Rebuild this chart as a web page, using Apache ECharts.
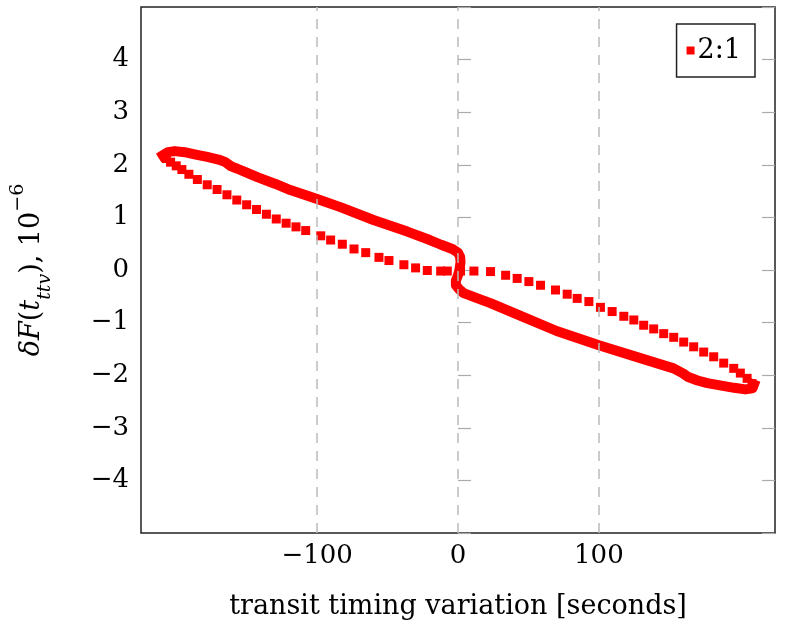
<!DOCTYPE html>
<html lang="en">
<head>
  <meta charset="UTF-8">
  <title>TTV loop</title>
  <style>
    html, body { margin: 0; padding: 0; background: #fff; }
  </style>
</head>
<body>
  <div id="main" style="width: 798px; height: 640px;"></div>

  <script src="https://cdn.jsdelivr.net/npm/echarts@6/dist/echarts.min.js"></script>
  <script type="text/javascript">
    // series name shown in the legend
    var seriesName = '2:1';

    // dense part of the loop (points overlap into a thick band):
    // left tip -> upper left branch -> jump at 0 -> lower right branch -> right tip
    var denseX = [-209.5, -206, -201, -194, -187, -178, -170, -165, -161, -157, -150, -142, -130, -119, -100, -83, -60, -36, -20, -12, -4, 0, 1.5, 1.8, 1, 0, -1.5, -1.5, 1, 4, 12, 23, 47, 70, 100, 130, 153, 160, 163, 170, 177, 196, 204, 209, 210];
    var denseY = [2.18, 2.24, 2.26, 2.24, 2.20, 2.15, 2.10, 2.05, 1.97, 1.93, 1.85, 1.76, 1.64, 1.52, 1.35, 1.19, 0.95, 0.73, 0.57, 0.48, 0.40, 0.33, 0.25, 0.15, 0.0, -0.10, -0.20, -0.29, -0.37, -0.44, -0.52, -0.63, -0.90, -1.16, -1.43, -1.68, -1.87, -1.97, -2.03, -2.10, -2.15, -2.24, -2.27, -2.25, -2.18];

    // sparse part of the loop (separate square marks):
    // right tip -> upper right branch -> through 0 -> lower left branch -> left tip
    var sparseX = [208.7, 205.2, 200.4, 195.7, 188.6, 181.5, 174.4, 167.3, 160.2, 153.1, 146.0, 138.9, 131.8, 124.8, 117.7, 109.4, 101.1, 92.9, 84.6, 77.5, 69.2, 58.6, 50.3, 42.0, 33.8, 23.1, 11.3, 1.8, -7.6, -12.3, -21.8, -30.1, -38.4, -49.0, -56.1, -65.5, -73.8, -82.1, -90.4, -97.4, -108.1, -115, -122, -129, -136, -143, -150, -157, -164, -171, -178, -185, -191, -196, -200, -204, -207];
    var sparseY = [-2.16, -2.06, -1.96, -1.87, -1.77, -1.65, -1.56, -1.46, -1.37, -1.28, -1.21, -1.12, -1.05, -0.95, -0.88, -0.79, -0.71, -0.60, -0.54, -0.46, -0.38, -0.29, -0.22, -0.16, -0.10, -0.03, -0.02, -0.02, -0.02, -0.02, -0.01, 0.04, 0.10, 0.18, 0.24, 0.33, 0.40, 0.49, 0.57, 0.65, 0.75, 0.82, 0.89, 0.97, 1.06, 1.15, 1.24, 1.33, 1.43, 1.53, 1.62, 1.72, 1.82, 1.91, 1.98, 2.05, 2.12];

    // dashed vertical grid lines
    var gridXValues = [-100, 0, 100];

    var red = '#ff0000';
    var serif = '"DejaVu Serif", "Liberation Serif", serif';
    var fs = 26;

    function zip(xs, ys) {
      return xs.map(function (x, i) { return [x, ys[i]]; });
    }

    function minusSign(v) {
      return v < 0 ? '\u2212' + Math.abs(v) : String(v);
    }

    var myChart = echarts.init(document.getElementById('main'), null, { renderer: 'canvas' });

    var option = {
      animation: false,
      backgroundColor: '#fff',
      grid: {
        left: 141,
        right: 23,
        top: 7,
        bottom: 107,
        containLabel: false,
        outerBoundsMode: 'none',
        show: true,
        borderColor: '#222',
        borderWidth: 1.5,
        backgroundColor: 'transparent'
      },
      legend: {
        data: [{ name: seriesName, icon: 'rect' }],
        right: 43,
        top: 24,
        orient: 'vertical',
        itemWidth: 8,
        itemHeight: 8,
        itemGap: 0,
        padding: [13, 14, 13, 10],
        borderColor: '#222',
        borderWidth: 1.5,
        backgroundColor: '#fff',
        textStyle: { fontFamily: serif, fontSize: 27, color: '#000', padding: [0, 0, 0, -2] }
      },
      xAxis: {
        type: 'value',
        min: -225,
        max: 225,
        interval: 25,
        name: 'transit timing variation [seconds]',
        nameLocation: 'middle',
        nameGap: 60,
        nameTextStyle: { fontFamily: serif, fontSize: 27, color: '#000' },
        axisLine: { show: false },
        axisTick: { show: false },
        splitLine: { show: false },
        axisLabel: {
          margin: 10,
          fontFamily: serif,
          fontSize: fs,
          color: '#000',
          showMinLabel: false,
          showMaxLabel: false,
          formatter: function (v) {
            return gridXValues.indexOf(v) >= 0 ? minusSign(v) : '';
          }
        }
      },
      yAxis: [{
        type: 'value',
        min: -5,
        max: 5,
        interval: 1,
        position: 'left',
        name: '{i|\u03b4F}{r|(}{i|t}{s|ttv}{r|), 10}{p|\u22126}',
        nameLocation: 'middle',
        nameRotate: 90,
        nameGap: 86,
        nameTextStyle: {
          fontFamily: serif,
          fontSize: 27,
          color: '#000',
          rich: {
            i: { fontFamily: serif, fontSize: 27, fontStyle: 'italic', lineHeight: 46, verticalAlign: 'middle' },
            r: { fontFamily: serif, fontSize: 27, lineHeight: 46, verticalAlign: 'middle' },
            s: { fontFamily: serif, fontSize: 19, fontStyle: 'italic', lineHeight: 20, verticalAlign: 'bottom' },
            p: { fontFamily: serif, fontSize: 19, lineHeight: 22, verticalAlign: 'top' }
          }
        },
        axisLine: { show: false },
        splitLine: { show: false },
        axisTick: { inside: true, length: 13, lineStyle: { color: '#aaa', width: 1.2 } },
        axisLabel: {
          margin: 12,
          fontFamily: serif,
          fontSize: fs,
          color: '#000',
          formatter: function (v) {
            return Math.abs(v) === 5 ? '' : minusSign(v);
          }
        }
      }, {
        type: 'value',
        min: -5,
        max: 5,
        interval: 1,
        position: 'right',
        axisLine: { show: false },
        splitLine: { show: false },
        axisLabel: { show: false },
        axisTick: { inside: true, length: 13, lineStyle: { color: '#aaa', width: 1.2 } }
      }],
      series: [{
        // carries only the dashed grid lines, drawn below the data
        type: 'scatter',
        name: 'grid',
        data: [],
        z: 1,
        markLine: {
          silent: true,
          symbol: 'none',
          label: { show: false },
          lineStyle: { color: '#bbb', width: 1.5, type: [10, 8] },
          data: gridXValues.map(function (v) { return { xAxis: v }; })
        }
      }, {
        type: 'line',
        name: 'dense',
        data: zip(denseX, denseY),
        showSymbol: false,
        symbol: 'none',
        smooth: false,
        z: 3,
        lineStyle: { color: red, width: 10, cap: 'square', join: 'round', opacity: 1 },
        itemStyle: { color: red }
      }, {
        type: 'scatter',
        name: seriesName,
        data: zip(sparseX, sparseY),
        symbol: 'rect',
        symbolSize: 9,
        z: 4,
        itemStyle: { color: red, opacity: 1 }
      }]
    };

    myChart.setOption(option);
  </script>
</body>
</html>
